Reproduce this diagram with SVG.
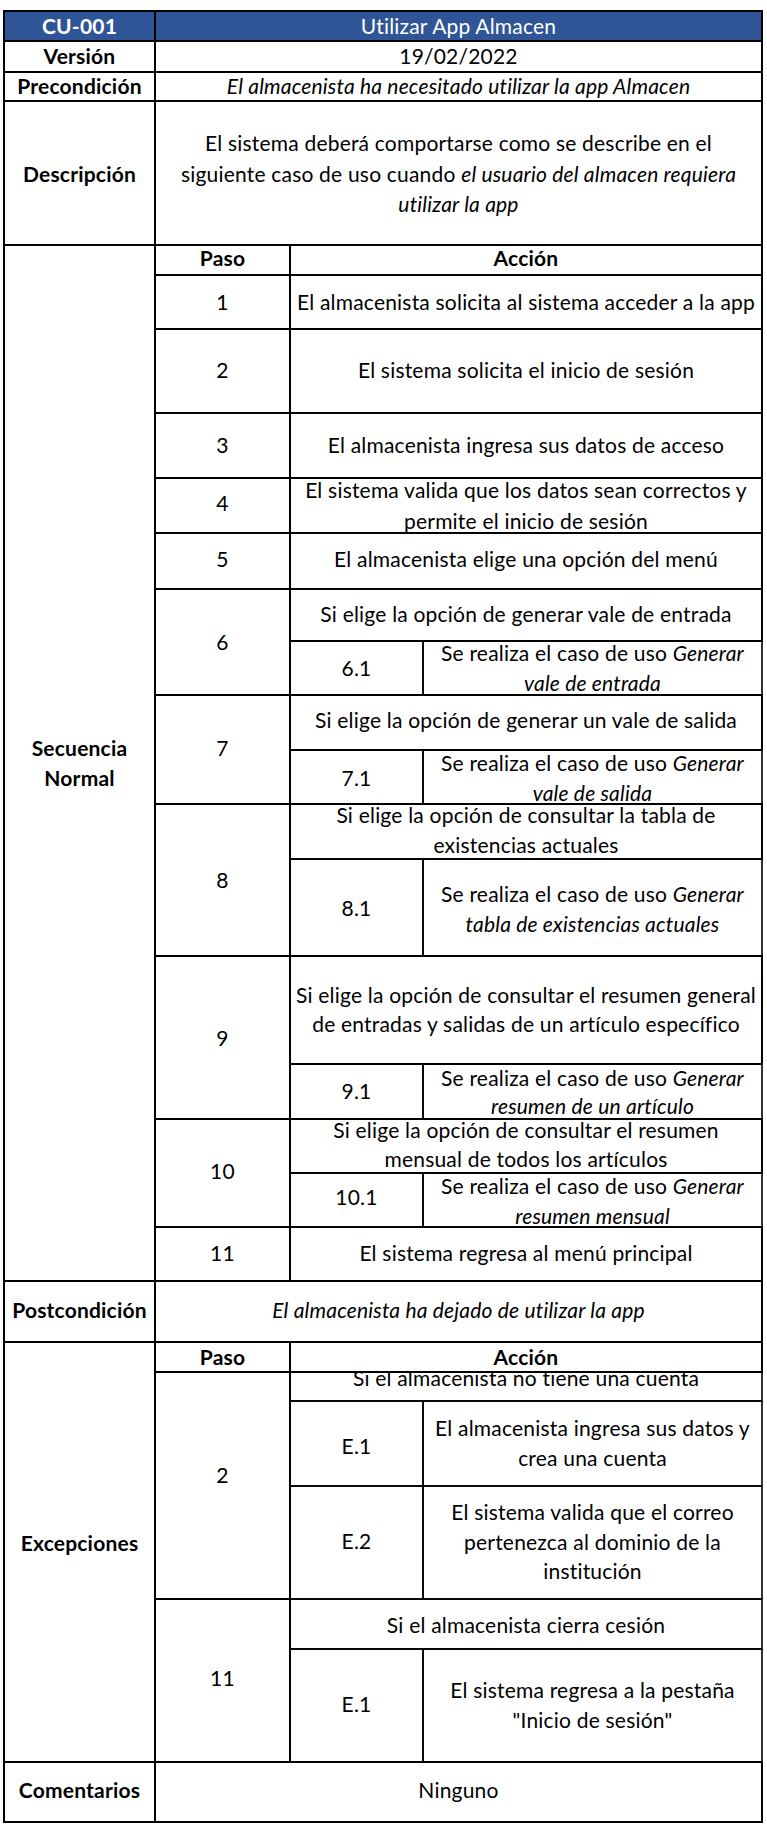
<svg xmlns="http://www.w3.org/2000/svg" width="767" height="1841" viewBox="0 0 767 1841">
<style>
text{font-family:Lato,"Liberation Sans",sans-serif;font-size:21px;letter-spacing:0.2px;fill:#000;text-anchor:middle}
.b{font-weight:bold}
.i{font-style:italic}
.w{fill:#fff}
.c{fill:none;stroke:#000;stroke-width:2}
.t{fill:none;stroke:#000;stroke-width:1.6}
</style>
<defs>
<clipPath id="clipE"><rect x="290" y="1373" width="472" height="28"/></clipPath>
</defs>
<rect x="0" y="0" width="767" height="1841" fill="#fff"/>

<g id="header">
<rect x="4" y="11" width="758" height="30" fill="#2F5597" stroke="#000" stroke-width="2"/>
<line x1="155" y1="11" x2="155" y2="41" stroke="#000" stroke-width="2"/>
<text class="b w" x="79.5" y="33.5">CU-001</text>
<text class="w" x="458.5" y="33.5">Utilizar App Almacen</text>
</g>

<g id="version">
<rect class="c" x="4" y="41" width="151" height="31"/>
<rect class="c" x="155" y="41" width="607" height="31"/>
<text class="b" x="79.5" y="64">Versión</text>
<text x="458.5" y="64">19/02/2022</text>
</g>

<g id="precondicion">
<rect class="c" x="4" y="72" width="151" height="29"/>
<rect class="c" x="155" y="72" width="607" height="29"/>
<text class="b" x="79.5" y="94">Precondición</text>
<text class="i" x="458.5" y="94">El almacenista ha necesitado utilizar la app Almacen</text>
</g>

<g id="descripcion">
<rect class="c" x="4" y="101" width="151" height="144"/>
<rect class="c" x="155" y="101" width="607" height="144"/>
<text class="b" x="79.5" y="182">Descripción</text>
<text x="458.5" y="151">El sistema deberá comportarse como se describe en el</text>
<text x="458.5" y="182">siguiente caso de uso cuando <tspan class="i">el usuario del almacen requiera</tspan></text>
<text class="i" x="458.5" y="212">utilizar la app</text>
</g>

<g id="secuencia-normal">
<rect class="c" x="4" y="245" width="151" height="1036"/>
<text class="b" x="79.5" y="756">Secuencia</text>
<text class="b" x="79.5" y="786">Normal</text>
<rect class="c" x="155" y="245" width="135" height="30"/>
<rect class="c" x="290" y="245" width="472" height="30"/>
<text class="b" x="222.5" y="266">Paso</text>
<text class="b" x="526" y="266">Acción</text>
</g>

<g id="paso-1">
<rect class="c" x="155" y="275" width="135" height="54"/>
<rect class="c" x="290" y="275" width="472" height="54"/>
<text x="222.5" y="309.5">1</text>
<text x="526" y="309.5">El almacenista solicita al sistema acceder a la app</text>
</g>

<g id="paso-2">
<rect class="c" x="155" y="329" width="135" height="84"/>
<rect class="c" x="290" y="329" width="472" height="84"/>
<text x="222.5" y="377.5">2</text>
<text x="526" y="377.5">El sistema solicita el inicio de sesión</text>
</g>

<g id="paso-3">
<rect class="c" x="155" y="413" width="135" height="65"/>
<rect class="c" x="290" y="413" width="472" height="65"/>
<text x="222.5" y="453">3</text>
<text x="526" y="453">El almacenista ingresa sus datos de acceso</text>
</g>

<g id="paso-4">
<rect class="c" x="155" y="478" width="135" height="55"/>
<rect class="c" x="290" y="478" width="472" height="55"/>
<text x="222.5" y="511">4</text>
<text x="526" y="497.5">El sistema valida que los datos sean correctos y</text>
<text x="526" y="528.5">permite el inicio de sesión</text>
</g>

<g id="paso-5">
<rect class="c" x="155" y="533" width="135" height="56"/>
<rect class="c" x="290" y="533" width="472" height="56"/>
<text x="222.5" y="567">5</text>
<text x="526" y="567">El almacenista elige una opción del menú</text>
</g>

<g id="paso-6">
<rect class="c" x="155" y="589" width="135" height="106"/>
<rect class="c" x="290" y="589" width="472" height="52"/>
<rect class="t" x="290" y="641" width="133" height="54"/>
<rect class="t" x="423" y="641" width="339" height="54"/>
<text x="222.5" y="649.5">6</text>
<text x="526" y="621.5">Si elige la opción de generar vale de entrada</text>
<text x="356.5" y="675.5">6.1</text>
<text x="592.5" y="661">Se realiza el caso de uso <tspan class="i">Generar</tspan></text>
<text class="i" x="592.5" y="691">vale de entrada</text>
</g>

<g id="paso-7">
<rect class="c" x="155" y="695" width="135" height="109"/>
<rect class="c" x="290" y="695" width="472" height="55"/>
<rect class="t" x="290" y="750" width="133" height="54"/>
<rect class="t" x="423" y="750" width="339" height="54"/>
<text x="222.5" y="755.5">7</text>
<text x="526" y="728">Si elige la opción de generar un vale de salida</text>
<text x="356.5" y="786">7.1</text>
<text x="592.5" y="771">Se realiza el caso de uso <tspan class="i">Generar</tspan></text>
<text class="i" x="592.5" y="800.5">vale de salida</text>
</g>

<g id="paso-8">
<rect class="c" x="155" y="804" width="135" height="152"/>
<rect class="c" x="290" y="804" width="472" height="55"/>
<rect class="t" x="290" y="859" width="133" height="97"/>
<rect class="t" x="423" y="859" width="339" height="97"/>
<text x="222.5" y="887.5">8</text>
<text x="526" y="823">Si elige la opción de consultar la tabla de</text>
<text x="526" y="853">existencias actuales</text>
<text x="356.5" y="915.5">8.1</text>
<text x="592.5" y="902">Se realiza el caso de uso <tspan class="i">Generar</tspan></text>
<text class="i" x="592.5" y="931.5">tabla de existencias actuales</text>
</g>

<g id="paso-9">
<rect class="c" x="155" y="956" width="135" height="163"/>
<rect class="c" x="290" y="956" width="472" height="108"/>
<rect class="t" x="290" y="1064" width="133" height="55"/>
<rect class="t" x="423" y="1064" width="339" height="55"/>
<text x="222.5" y="1045.5">9</text>
<text x="526" y="1002.5">Si elige la opción de consultar el resumen general</text>
<text x="526" y="1031.5">de entradas y salidas de un artículo  específico</text>
<text x="356.5" y="1098.5">9.1</text>
<text x="592.5" y="1085.5">Se realiza el caso de uso <tspan class="i">Generar</tspan></text>
<text class="i" x="592.5" y="1113.5">resumen de un artículo</text>
</g>

<g id="paso-10">
<rect class="c" x="155" y="1119" width="135" height="108"/>
<rect class="c" x="290" y="1119" width="472" height="54"/>
<rect class="t" x="290" y="1173" width="133" height="54"/>
<rect class="t" x="423" y="1173" width="339" height="54"/>
<text x="222.5" y="1178.5">10</text>
<text x="526" y="1137.5">Si elige la opción de consultar el resumen</text>
<text x="526" y="1167">mensual de todos los artículos</text>
<text x="356.5" y="1205">10.1</text>
<text x="592.5" y="1193.5">Se realiza el caso de uso <tspan class="i">Generar</tspan></text>
<text class="i" x="592.5" y="1224">resumen mensual</text>
</g>

<g id="paso-11">
<rect class="c" x="155" y="1227" width="135" height="54"/>
<rect class="c" x="290" y="1227" width="472" height="54"/>
<text x="222.5" y="1260.5">11</text>
<text x="526" y="1260.5">El sistema regresa al menú principal</text>
</g>

<g id="postcondicion">
<rect class="c" x="4" y="1281" width="151" height="61"/>
<rect class="c" x="155" y="1281" width="607" height="61"/>
<text class="b" x="79.5" y="1318">Postcondición</text>
<text class="i" x="458.5" y="1318">El almacenista ha dejado de utilizar la app</text>
</g>

<g id="excepciones">
<rect class="c" x="4" y="1342" width="151" height="420"/>
<text class="b" x="79.5" y="1551">Excepciones</text>
<rect class="c" x="155" y="1342" width="135" height="30"/>
<rect class="c" x="290" y="1342" width="472" height="30"/>
<text class="b" x="222.5" y="1364.5">Paso</text>
<text class="b" x="526" y="1364.5">Acción</text>
</g>

<g id="excepcion-2">
<rect class="c" x="155" y="1372" width="135" height="227"/>
<text x="222.5" y="1482.5">2</text>
<text x="526" y="1386" clip-path="url(#clipE)">Si el almacenista no tiene una cuenta</text>
<rect class="t" x="290" y="1372" width="472" height="29"/>
<rect class="t" x="290" y="1401" width="133" height="85"/>
<rect class="t" x="423" y="1401" width="339" height="85"/>
<text x="356.5" y="1454">E.1</text>
<text x="592.5" y="1435.5">El almacenista ingresa sus datos y</text>
<text x="592.5" y="1466">crea una cuenta</text>
<rect class="t" x="290" y="1486" width="133" height="113"/>
<rect class="t" x="423" y="1486" width="339" height="113"/>
<text x="356.5" y="1549">E.2</text>
<text x="592.5" y="1519.5">El sistema valida que el correo</text>
<text x="592.5" y="1549.5">pertenezca al dominio de la</text>
<text x="592.5" y="1578.5">institución</text>
</g>

<g id="excepcion-11">
<rect class="c" x="155" y="1599" width="135" height="163"/>
<text x="222.5" y="1686">11</text>
<rect class="t" x="290" y="1599" width="472" height="50"/>
<text x="526" y="1633">Si el almacenista cierra cesión</text>
<rect class="t" x="290" y="1649" width="133" height="113"/>
<rect class="t" x="423" y="1649" width="339" height="113"/>
<text x="356.5" y="1712">E.1</text>
<text x="592.5" y="1698">El sistema regresa a la pestaña</text>
<text x="592.5" y="1728">"Inicio de sesión"</text>
</g>

<g id="comentarios">
<rect class="c" x="4" y="1762" width="151" height="60"/>
<rect class="c" x="155" y="1762" width="607" height="60"/>
<text class="b" x="79.5" y="1798">Comentarios</text>
<text x="458.5" y="1798">Ninguno</text>
</g>
</svg>
